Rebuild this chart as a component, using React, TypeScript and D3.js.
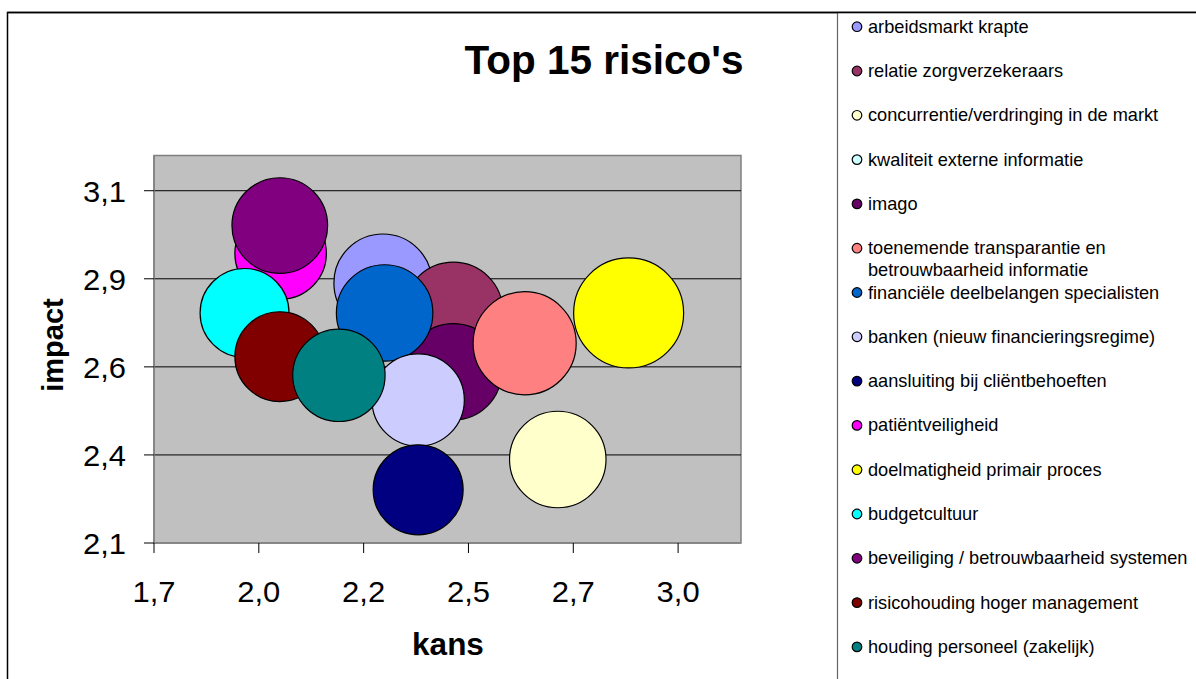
import React from "react";
import * as d3 from "d3";

// Risk names, in series order
const risks = [
  "arbeidsmarkt krapte",
  "relatie zorgverzekeraars",
  "concurrentie/verdringing in de markt",
  "kwaliteit externe informatie",
  "imago",
  "toenemende transparantie en betrouwbaarheid informatie",
  "financiële deelbelangen specialisten",
  "banken (nieuw  financieringsregime)",
  "aansluiting bij cliëntbehoeften",
  "patiëntveiligheid",
  "doelmatigheid primair proces",
  "budgetcultuur",
  "beveiliging / betrouwbaarheid systemen",
  "risicohouding hoger management",
  "houding personeel (zakelijk)",
];

// Legend lines (long names wrap)
const legendLines = [
  ["arbeidsmarkt krapte"],
  ["relatie zorgverzekeraars"],
  ["concurrentie/verdringing in de markt"],
  ["kwaliteit externe informatie"],
  ["imago"],
  ["toenemende transparantie en", "betrouwbaarheid informatie"],
  ["financiële deelbelangen specialisten"],
  ["banken (nieuw  financieringsregime)"],
  ["aansluiting bij cliëntbehoeften"],
  ["patiëntveiligheid"],
  ["doelmatigheid primair proces"],
  ["budgetcultuur"],
  ["beveiliging / betrouwbaarheid systemen"],
  ["risicohouding hoger management"],
  ["houding personeel (zakelijk)"],
];

const kans = [2.246, 2.414, 2.663, 2.25, 2.414, 2.584, 2.25, 2.33, 2.33, 2.002, 2.832, 1.916, 2.0, 2.0, 2.141];
const impact = [2.838, 2.757, 2.337, 2.753, 2.586, 2.667, 2.753, 2.506, 2.251, 2.922, 2.753, 2.753, 3.001, 2.629, 2.576];
const riskScore = [6.2, 6.3, 6.0, 5.0, 6.0, 6.85, 6.0, 5.5, 5.22, 5.4, 7.8, 5.1, 5.9, 5.2, 5.5];

const colors = [
  "#9999FF", "#993366", "#FFFFCC", "#CCFFFF", "#660066",
  "#FF8080", "#0066CC", "#CCCCFF", "#000080", "#FF00FF",
  "#FFFF00", "#00FFFF", "#800080", "#800000", "#008080",
];

const xTicks = [1.7, 1.95, 2.2, 2.45, 2.7, 2.95];
const xTickLabels = ["1,7", "2,0", "2,2", "2,5", "2,7", "3,0"];
const yTicks = [2.1, 2.35, 2.6, 2.85, 3.1];
const yTickLabels = ["2,1", "2,4", "2,6", "2,9", "3,1"];

const W = 1196;
const H = 679;
const plot = { left: 154, right: 741, top: 155.5, bottom: 543 };
const FONT = "'Liberation Sans', Arial, Helvetica, sans-serif";

export default function App() {
  const x = d3.scaleLinear().domain([1.7, 3.1]).range([plot.left, plot.right]);
  const y = d3.scaleLinear().domain([2.1, 3.2]).range([plot.bottom, plot.top]);
  const r = d3.scaleSqrt().domain([0, 7.8]).range([0, 55]);
  const legendY = d3.scaleLinear().domain([0, 1]).range([26.7, 71]);

  return (
    <svg
      width={W}
      height={H}
      style={{ position: "absolute", left: 0, top: 0, display: "block", background: "#fff" }}
      fontFamily={FONT}
    >
      {/* chart frame */}
      <path d={`M7.5,${H + 5} V12.5 H${W + 5}`} fill="none" stroke="#000" strokeWidth={1.5} />

      {/* title */}
      <text x={604} y={73.5} textAnchor="middle" fontSize={40.5} fontWeight="bold" fill="#000">
        Top 15 risico's
      </text>

      {/* plot area */}
      <rect
        x={plot.left}
        y={plot.top}
        width={plot.right - plot.left}
        height={plot.bottom - plot.top}
        fill="#C0C0C0"
        stroke="#808080"
        strokeWidth={1.5}
      />
      {yTicks.slice(1).map((t) => (
        <line key={t} x1={plot.left} x2={plot.right} y1={y(t)} y2={y(t)} stroke="#000" strokeWidth={1} />
      ))}

      {/* bubbles */}
      {risks.map((name, i) => (
        <circle
          key={name}
          cx={x(kans[i])}
          cy={y(impact[i])}
          r={r(riskScore[i])}
          fill={colors[i]}
          stroke="#000"
          strokeWidth={1.2}
        />
      ))}

      {/* axes */}
      <line x1={plot.left} x2={plot.left} y1={plot.top} y2={plot.bottom} stroke="#808080" strokeWidth={1.5} />
      <line x1={plot.left} x2={plot.right} y1={plot.bottom} y2={plot.bottom} stroke="#808080" strokeWidth={1.5} />
      {yTicks.map((t, i) => (
        <g key={t}>
          <line x1={plot.left - 10} x2={plot.left} y1={y(t)} y2={y(t)} stroke="#000" />
          <text
            transform={`translate(126,${y(t) + 11}) scale(1.05,1)`}
            textAnchor="end"
            fontSize={29.5}
            fill="#000"
          >
            {yTickLabels[i]}
          </text>
        </g>
      ))}
      {xTicks.map((t, i) => (
        <g key={t}>
          <line x1={x(t)} x2={x(t)} y1={plot.bottom} y2={plot.bottom + 10} stroke="#000" />
          <text
            transform={`translate(${x(t)},602) scale(1.05,1)`}
            textAnchor="middle"
            fontSize={29.5}
            fill="#000"
          >
            {xTickLabels[i]}
          </text>
        </g>
      ))}

      {/* axis titles */}
      <text x={448} y={655} textAnchor="middle" fontSize={31.5} fontWeight="bold" fill="#000">
        kans
      </text>
      <text
        transform="translate(63,345) rotate(-90)"
        textAnchor="middle"
        fontSize={29}
        fontWeight="bold"
        fill="#000"
      >
        impact
      </text>

      {/* legend */}
      <rect x={837.5} y={12.5} width={W} height={H} fill="#fff" stroke="#666" strokeWidth={1.2} />
      <path d={`M7.5,12.5 H${W + 5}`} fill="none" stroke="#000" strokeWidth={1.5} />
      {legendLines.map((lines, i) => (
        <g key={i}>
          <circle cx={857} cy={legendY(i)} r={4.8} fill={colors[i]} stroke="#000" strokeWidth={1.2} />
          {lines.map((ln, j) => (
            <text key={j} x={868} y={legendY(i) + 6 + j * 21.7} fontSize={18.2} fill="#000">
              {ln}
            </text>
          ))}
        </g>
      ))}
    </svg>
  );
}
